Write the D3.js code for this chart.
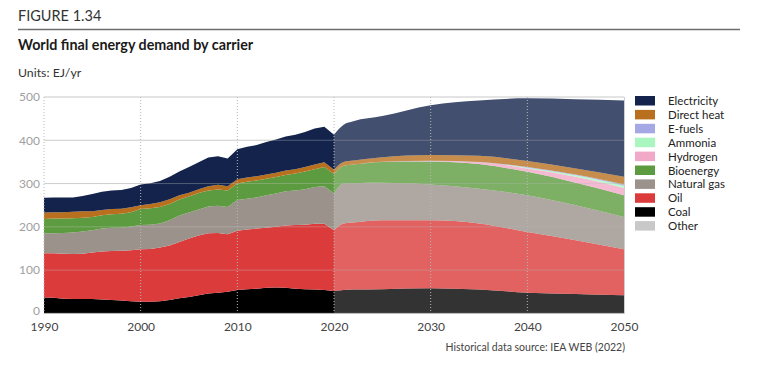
<!DOCTYPE html>
<html><head><meta charset="utf-8">
<script src="https://cdn.jsdelivr.net/npm/d3@7"></script>
<style>
html,body{margin:0;padding:0;background:#fff;}
svg{display:block;font-family:Lato,"Open Sans",sans-serif;}
</style></head>
<body>
<svg id="c" width="768" height="390"></svg>
<script>
// ---------- data ----------
const seriesNames = ["Other","Coal","Oil","Natural gas","Bioenergy","Hydrogen","Ammonia","E-fuels","Direct heat","Electricity"];
const legendOrder = ["Electricity","Direct heat","E-fuels","Ammonia","Hydrogen","Bioenergy","Natural gas","Oil","Coal","Other"];
const colors = ["#c8c8c8","#000000","#db3b3b","#9b928b","#5c9b3f","#f2a9c7","#a9f6c0","#a4a8e4","#b8701f","#13234b"];

const histYears = [1990,1991,1992,1993,1994,1995,1996,1997,1998,1999,2000,2001,2002,2003,2004,2005,2006,2007,2008,2009,2010,2011,2012,2013,2014,2015,2016,2017,2018,2019,2020];
const histOther       = [0,0,0,0,0,0,0,0,0,0,0,0,0,0,0,0,0,0,0,0,0,0,0,0,0,0,0,0,0,0,0];
const histCoal        = [37,36,34,33,33,33,32,31,30,28,27,27,28,31,35,38,42,46,48,50,54,56,57,59,60,59,57,56,55,54,52];
const histOil         = [102,103,104,104,105,108,111,113,115,118,121,122,124,126,130,135,138,139,138,133,137,138,139,139,140,144,147,149,152,153,140];
const histGas         = [46,46,48,50,51,51,53,54,53,55,56,56,56,58,61,60,60,62,63,63,71,71,72,75,77,79,80,82,85,87,85];
const histBio         = [33,34,33,33,32,31,31,31,32,33,37,38,38,38,37,37,38,37,37,38,38,39,39,38,38,38,39,41,41,44,45];
const histHydrogen    = [0,0,0,0,0,0,0,0,0,0,0,0,0,0,0,0,0,0,0,0,0,0,0,0,0,0,0,0,0,0,0];
const histAmmonia     = [0,0,0,0,0,0,0,0,0,0,0,0,0,0,0,0,0,0,0,0,0,0,0,0,0,0,0,0,0,0,0];
const histEfuels      = [0,0,0,0,0,0,0,0,0,0,0,0,0,0,0,0,0,0,0,0,0,0,0,0,0,0,0,0,0,0,0];
const histHeat        = [15,15,15,15,15,13,12,12,12,11,9,10,11,11,10,9,9,10,11,10,10,10,10,10,10,10,10,10,11,11,10];
const histElectricity = [34,34,34,33,35,40,42,43,43,45,48,48,49,52,55,59,62,66,66,64,69,71,72,75,77,79,80,81,83,82,81];

const projYears = [2020,2021,2022,2025,2030,2035,2040,2045,2050];
const projOther       = [0,0,0,0,0,0,0,0,0];
const projCoal        = [52,54,55,56,58,55,48,45,42];
const projOil         = [140,154,155,159,157,153,140,124,106];
const projGas         = [85,92,91,87,83,80,85,81,75];
const projBio         = [45,41,43,48,53,57,54,52,50];
const projHydrogen    = [0,0,0,0.5,1,4,8,14,17];
const projAmmonia     = [0,0,0,0,0.3,0.5,1.5,3,5];
const projEfuels      = [0,0,0,0,0.3,0.5,1.5,2,3];
const projHeat        = [10,9,9,10.5,13.4,14,14,14,18];
const projElectricity = [81,86,91,95,115,128,145,160,176];

const yTicks = [0,100,200,300,400,500];
const xTicks = [1990,2000,2010,2020,2030,2040,2050];

// ---------- build tables ----------
function table(years, cols){
  return years.map((y,i)=>{const o={year:y}; seriesNames.forEach((n,k)=>o[n]=cols[k][i]); return o;});
}
const hist = table(histYears,[histOther,histCoal,histOil,histGas,histBio,histHydrogen,histAmmonia,histEfuels,histHeat,histElectricity]);
const proj = table(projYears,[projOther,projCoal,projOil,projGas,projBio,projHydrogen,projAmmonia,projEfuels,projHeat,projElectricity]);

// ---------- layout ----------
const svg = d3.select("#c");
const M = {left:44, right:624, top:97, bottom:313.4};
const x = d3.scaleLinear().domain([1990,2050]).range([M.left,M.right]);
const y = d3.scaleLinear().domain([0,500]).range([M.bottom,M.top]);
const color = d3.scaleOrdinal().domain(seriesNames).range(colors);

// header
svg.append("text").attr("x",18).attr("y",21).attr("font-size",14.5).attr("fill","#333").text("FIGURE 1.34");
svg.append("line").attr("x1",18).attr("x2",740).attr("y1",29.5).attr("y2",29.5).attr("stroke","#6e6e6e").attr("stroke-width",1.5);
svg.append("text").attr("x",18).attr("y",50).attr("font-size",14.3).attr("font-weight","bold").attr("fill","#1a1a1a").text("World final energy demand by carrier");
svg.append("text").attr("x",18).attr("y",77).attr("font-size",12.3).attr("fill","#333").text("Units: EJ/yr");

// gridlines (under)
svg.append("g").selectAll("line").data(yTicks.filter(d=>d>0)).join("line")
  .attr("x1",M.left).attr("x2",M.right).attr("y1",d=>y(d)).attr("y2",d=>y(d))
  .attr("stroke","#d4d4d4").attr("stroke-width",1);

// areas
const stack = d3.stack().keys(seriesNames);
const hs = stack(hist), ps = stack(proj);
const areaH = d3.area().x(d=>x(d.data.year)).y0(d=>y(d[0])).y1(d=>y(d[1])).curve(d3.curveLinear);
const areaP = d3.area().x(d=>x(d.data.year)).y0(d=>y(d[0])).y1(d=>y(d[1])).curve(d3.curveMonotoneX);
svg.append("g").selectAll("path").data(hs).join("path")
  .attr("d",areaH).attr("fill",d=>color(d.key));
svg.append("g").selectAll("path").data(ps).join("path")
  .attr("d",areaP).attr("fill",d=>color(d.key)).attr("fill-opacity",0.8);

// gridlines (over)
svg.append("g").selectAll("line").data(yTicks.filter(d=>d>0)).join("line")
  .attr("x1",M.left).attr("x2",M.right).attr("y1",d=>y(d)).attr("y2",d=>y(d))
  .attr("stroke","#c8c8c8").attr("stroke-opacity",0.35).attr("stroke-width",1);
svg.append("g").selectAll("line").data(xTicks.filter(d=>d<2050)).join("line")
  .attr("x1",d=>x(d)).attr("x2",d=>x(d)).attr("y1",M.top).attr("y2",M.bottom)
  .attr("stroke","#b8b8b8").attr("stroke-width",1).attr("stroke-dasharray","1,2");
svg.append("line").attr("x1",M.right+0.5).attr("x2",M.right+0.5).attr("y1",M.top).attr("y2",M.bottom)
  .attr("stroke","#cfcfcf");
svg.append("line").attr("x1",M.left).attr("x2",M.right+0.5).attr("y1",M.bottom).attr("y2",M.bottom)
  .attr("stroke","#bdbdbd");

// axes labels
const yAxis = d3.axisLeft(y).tickValues(yTicks).tickSize(0).tickPadding(4);
const ya = svg.append("g").attr("transform",`translate(${M.left},0)`).call(yAxis);
ya.select(".domain").remove();
ya.selectAll("text").attr("font-size",12).attr("fill","#a0a0a0").attr("font-family","Lato,sans-serif");
ya.selectAll(".tick").filter(d=>d===0).select("text").attr("dy","0.1em");

const xAxis = d3.axisBottom(x).tickValues(xTicks).tickFormat(d3.format("d")).tickSize(0).tickPadding(9);
const xa = svg.append("g").attr("transform",`translate(0,${M.bottom})`).call(xAxis);
xa.select(".domain").remove();
xa.selectAll("text").attr("font-size",12).attr("fill","#444").attr("font-family","Lato,sans-serif");

// legend
const lg = svg.append("g").attr("transform","translate(635,96)");
const row = lg.selectAll("g").data(legendOrder).join("g").attr("transform",(d,i)=>`translate(0,${i*13.9})`);
row.append("rect").attr("width",20).attr("height",9.5).attr("fill",d=>color(d));
row.append("text").attr("x",33).attr("y",9).attr("font-size",11.5).attr("fill","#222").text(d=>d);

// source
svg.append("text").attr("x",625).attr("y",351).attr("text-anchor","end").attr("font-size",10.5).attr("fill","#444").text("Historical data source: IEA WEB (2022)");
</script>
</body></html>
